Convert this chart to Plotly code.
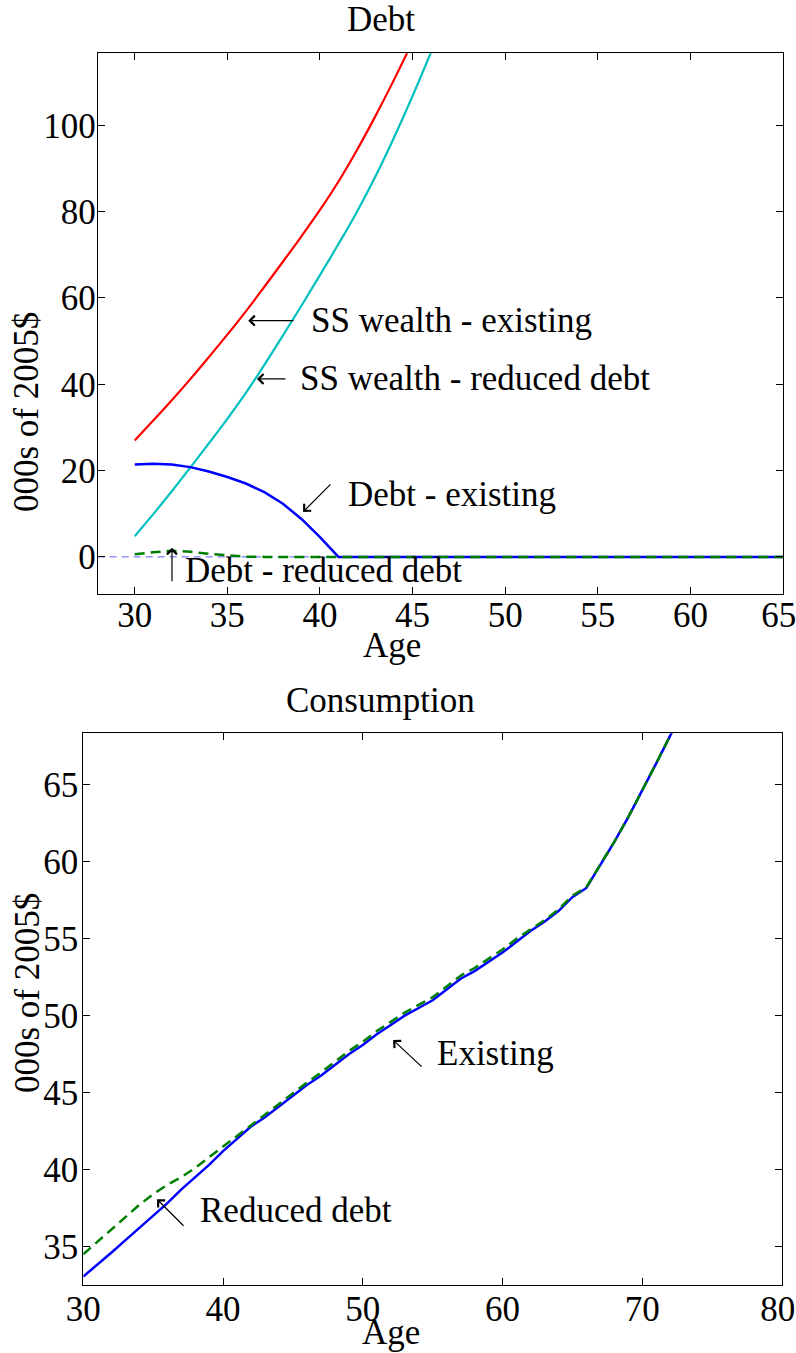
import plotly.graph_objects as go

# ---------------- data ----------------
wealth_age = list(range(30, 48))
ss_wealth_existing = [27.0, 31.6, 36.3, 41.2, 46.3, 51.5, 56.9, 62.6, 68.4, 74.3,
                      80.4, 87.0, 94.3, 102.2, 110.6, 119.4, 128.6, 138.2]
ss_wealth_reduced = [4.8, 9.9, 15.2, 20.7, 26.3, 32.0, 38.0, 44.5, 51.3, 58.2,
                     65.3, 72.5, 80.0, 88.2, 97.2, 106.8, 117.0, 127.8]

debt_age = list(range(30, 66))
debt_existing = [21.4, 21.6, 21.4, 20.8, 19.8, 18.5, 17.0, 15.0, 12.3, 8.8, 4.6, 0.0] + [0.0] * 24
debt_reduced = [0.6, 1.1, 1.4, 1.2, 0.7, 0.3, 0.05] + [0.0] * 29

cons_age = list(range(30, 74))
cons_existing = [33.05, 33.8, 34.6, 35.4, 36.2, 37.0, 37.8, 38.7, 39.5, 40.3,
                 41.2, 42.0, 42.8, 43.4, 44.1, 44.8, 45.5, 46.1, 46.8, 47.5,
                 48.1, 48.8, 49.4, 50.0, 50.5, 51.0, 51.7, 52.4, 52.9, 53.5,
                 54.1, 54.8, 55.5, 56.1, 56.8, 57.7, 58.3, 59.8, 61.3, 62.9,
                 64.6, 66.4, 68.2, 70.0]
cons_reduced = [34.5, 35.3, 36.1, 36.9, 37.7, 38.4, 39.0, 39.5, 40.1, 40.8,
                41.5, 42.2, 42.9, 43.55, 44.25, 44.95, 45.65, 46.3, 47.0, 47.7,
                48.3, 49.0, 49.6, 50.2, 50.7, 51.2, 51.9, 52.6, 53.1, 53.7,
                54.3, 55.0, 55.6, 56.2, 56.9, 57.8, 58.35, 59.8, 61.3, 62.9,
                64.6, 66.4, 68.2, 70.0]

top_xticks = [30, 35, 40, 45, 50, 55, 60, 65]
top_xlabels = ["30", "35", "40", "45", "50", "55", "60", "65\u00a0"]
top_yticks = [0, 20, 40, 60, 80, 100]
bot_xticks = [30, 40, 50, 60, 70, 80]
bot_xlabels = ["30", "40", "50", "60", "70", "80\u00a0"]
bot_yticks = [35, 40, 45, 50, 55, 60, 65]

# ---------------- figure ----------------
FONT = "Liberation Serif, Times New Roman, serif"
FS = 35
W, H = 796, 1353

fig = go.Figure()

def line(x, y, color, width, dash=None, xa="x", ya="y", shape="linear"):
    fig.add_trace(go.Scatter(x=x, y=y, mode="lines", xaxis=xa, yaxis=ya,
                             line=dict(color=color, width=width, dash=dash, shape=shape),
                             showlegend=False, hoverinfo="skip"))

# top panel
line(wealth_age, ss_wealth_existing, "#ff0000", 2.2, shape="spline")
line(wealth_age, ss_wealth_reduced, "#00bfbf", 2.2, shape="spline")
line(debt_age, debt_existing, "#0000ff", 2.5)
line(debt_age, debt_reduced, "#008000", 2.5, dash="10px,6px")
fig.add_shape(type="line", xref="x domain", yref="y", x0=0, x1=1, y0=0, y1=0,
              line=dict(color="#5a5aff", width=1, dash="7px,5px"), layer="below")

# bottom panel
line(cons_age, cons_existing, "#0000ff", 2.5, xa="x2", ya="y2")
line(cons_age, cons_reduced, "#008000", 2.5, dash="10px,6px", xa="x2", ya="y2")

axis_common = dict(showgrid=False, zeroline=False, showline=True, linecolor="black",
                   linewidth=1, mirror="ticks", ticks="inside", ticklen=7,
                   tickcolor="black", tickwidth=1, automargin=False,
                   ticklabeloverflow="allow",
                   tickfont=dict(family=FONT, size=FS, color="black"))

fig.update_layout(
    width=W, height=H, margin=dict(l=0, r=0, t=0, b=0, pad=0, autoexpand=False),
    paper_bgcolor="white", plot_bgcolor="white",
    font=dict(family=FONT, size=FS, color="black"),
    xaxis=dict(domain=[97.7 / W, 783 / W], anchor="y", range=[28, 65],
               tickvals=top_xticks, ticktext=top_xlabels, ticklabelstandoff=-10,
               **axis_common),
    yaxis=dict(domain=[1 - 594 / H, 1 - 53.3 / H], anchor="x", range=[-8.6, 116.7],
               tickvals=top_yticks, ticklabelstandoff=-6, **axis_common),
    xaxis2=dict(domain=[83.3 / W, 782 / W], anchor="y2", range=[30, 80],
                tickvals=bot_xticks, ticktext=bot_xlabels, ticklabelstandoff=-7,
                **axis_common),
    yaxis2=dict(domain=[1 - 1285 / H, 1 - 733.3 / H], anchor="x2", range=[32.5, 68.35],
                tickvals=bot_yticks, ticklabelstandoff=-3, **axis_common),
)

# arrows (open heads, like TeX arrows)
def arrow(xh, yh, xt, yt, xa="x", ya="y"):
    fig.add_annotation(x=xh, y=yh, ax=xt, ay=yt, xref=xa, yref=ya, axref=xa, ayref=ya,
                       text="", showarrow=True, arrowhead=4, arrowsize=1.6,
                       arrowwidth=1.2, arrowcolor="black")

def label(x, y, text, xa="x", ya="y"):
    fig.add_annotation(x=x, y=y, xref=xa, yref=ya, text=text, showarrow=False,
                       xanchor="left", yanchor="middle",
                       font=dict(family=FONT, size=FS, color="black"))

arrow(36.13, 54.75, 38.65, 54.75)
label(39.4, 54.75, "SS wealth - existing")
arrow(36.6, 41.24, 38.22, 41.24)
label(38.8, 41.24, "SS wealth - reduced debt")
arrow(39.09, 10.43, 40.65, 17.15)
label(41.4, 14.4, "Debt - existing")
arrow(32.01, 2.1, 32.01, -6.0)
label(32.6, -3.2, "Debt - reduced debt")

arrow(52.17, 48.42, 54.32, 46.6, xa="x2", ya="y2")
label(55.2, 47.57, "Existing", xa="x2", ya="y2")
arrow(35.28, 38.07, 37.28, 36.25, xa="x2", ya="y2")
label(38.2, 37.35, "Reduced debt", xa="x2", ya="y2")

# titles and axis titles
def ptext(xpx, ypx, text, angle=0):
    fig.add_annotation(x=xpx / W, y=1 - ypx / H, xref="paper", yref="paper", text=text,
                       showarrow=False, xanchor="center", yanchor="middle", textangle=angle,
                       font=dict(family=FONT, size=FS, color="black"))

ptext(381, 20, "Debt")
ptext(380, 700, "Consumption")
ptext(392, 645, "Age")
ptext(391, 1332, "Age")
ptext(27, 412, "000s of 2005$", -90)
ptext(27, 993, "000s of 2005$", -90)

fig.write_html("out.html", config={"displayModeBar": False},
               post_script="document.body.style.margin='0';")
